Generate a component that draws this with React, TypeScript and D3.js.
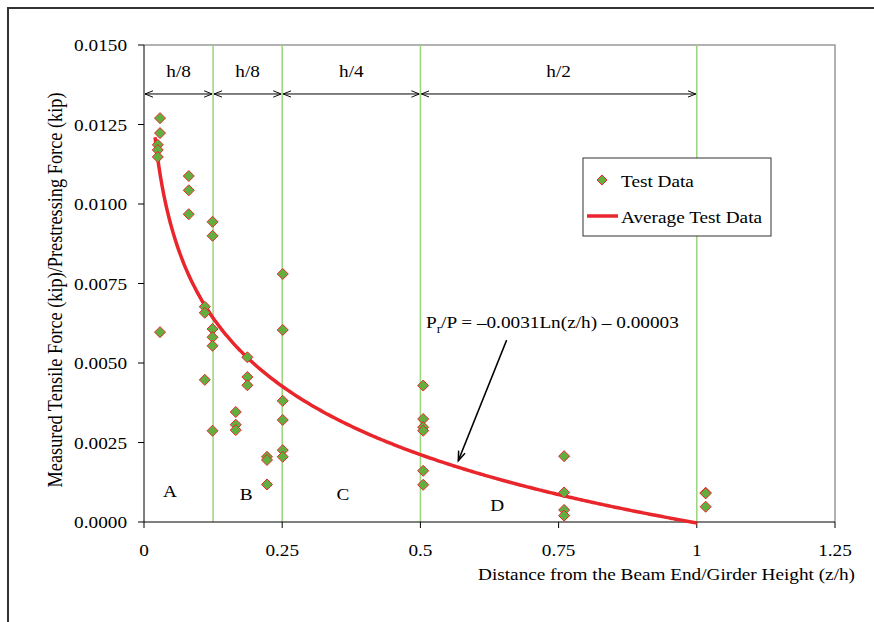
import React from "react";
import * as d3 from "d3";

// test points: z/h and Pr/P
const testX = [
  0.029, 0.029, 0.025, 0.025, 0.025, 0.029,
  0.081, 0.081, 0.081,
  0.110, 0.110, 0.110,
  0.124, 0.124, 0.124, 0.124, 0.124, 0.124,
  0.166, 0.166, 0.166,
  0.187, 0.187, 0.187,
  0.2225, 0.2225, 0.2225,
  0.251, 0.251, 0.251, 0.251, 0.251, 0.251,
  0.505, 0.505, 0.505, 0.505, 0.505, 0.505,
  0.760, 0.760, 0.760, 0.760,
  1.016, 1.016, 1.016,
];
const testY = [
  0.0127, 0.01223, 0.01186, 0.0117, 0.01148, 0.00597,
  0.01088, 0.01043, 0.00968,
  0.00677, 0.00658, 0.00447,
  0.00944, 0.0090, 0.00607, 0.00581, 0.00554, 0.00287,
  0.00346, 0.00306, 0.00289,
  0.00518, 0.00456, 0.0043,
  0.00205, 0.00195, 0.00118,
  0.0078, 0.00604, 0.00381, 0.00321, 0.00226, 0.00205,
  0.00429, 0.00324, 0.00298, 0.00287, 0.00161, 0.00117,
  0.00207, 0.00093, 0.00038, 0.0002,
  0.00092, 0.0009, 0.00048,
];

const xTicks = [0, 0.25, 0.5, 0.75, 1, 1.25];
const xTickLabels = ["0", "0.25", "0.5", "0.75", "1", "1.25"];
const yTicks = [0, 0.0025, 0.005, 0.0075, 0.01, 0.0125, 0.015];

const zoneLines = [0.125, 0.25, 0.5, 1];
const spanStarts = [0, 0.125, 0.25, 0.5];
const spanEnds = [0.125, 0.25, 0.5, 1];
const spanLabels = ["h/8", "h/8", "h/4", "h/2"];
const regionNames = ["A", "B", "C", "D"];
const regionX = [0.047, 0.185, 0.36, 0.639];
const regionY = [0.00097, 0.00088, 0.00088, 0.00053];

const fitA = -0.0031, fitB = -0.00003;

const FONT = "'Liberation Serif', 'Times New Roman', serif";
const FS = 17.5;
const RED = "#e8262c";
const GREEN = "#62ae3e";
const ZONE = "#98d67a";

// text is a little wider than the font in the original picture
const Label = ({ x, y, anchor = "start", dy = "0", children }: any) => (
  <text transform={`translate(${x},${y}) scale(1.1,1)`} textAnchor={anchor} dy={dy} fontSize={FS}>
    {children}
  </text>
);

const Diamond = ({ cx, cy, r = 5.5 }: { cx: number; cy: number; r?: number }) => (
  <path d={`M${cx},${cy - r}L${cx + r},${cy}L${cx},${cy + r}L${cx - r},${cy}Z`}
    fill={GREEN} stroke={RED} strokeWidth={1} />
);

export default function App() {
  const left = 144, right = 835, top = 45, bottom = 522;
  const x = d3.scaleLinear([0, 1.25], [left, right]);
  const y = d3.scaleLinear([0, 0.015], [bottom, top]);

  const curveX = d3.range(0.02, 1.0001, 0.005);
  const fitLine = d3.line<number>()
    .x(d => x(d))
    .y(d => y(fitA * Math.log(d) + fitB))
    .curve(d3.curveMonotoneX);

  const dimY = y(0.01346);
  const dimLabelY = y(0.0142);

  // annotation arrow in data units
  const a0 = [x(0.656), y(0.00572)];
  const a1 = [x(0.5686), y(0.00193)];
  const ang = Math.atan2(a1[1] - a0[1], a1[0] - a0[0]);
  const head = (s: number) =>
    `${a1[0] - 10 * Math.cos(ang + s)},${a1[1] - 10 * Math.sin(ang + s)}`;

  return (
    <svg width={874} height={622} style={{ position: "absolute", left: 0, top: 0, fontFamily: FONT }}>
      <rect x={0} y={0} width={874} height={622} fill="#fff" />
      <rect x={8} y={8} width={900} height={700} fill="none" stroke="#333" strokeWidth={2} />

      {/* plot area border */}
      <path d={`M${left},${top}H${right}V${bottom}`} fill="none" stroke="#999" strokeWidth={1.5} />

      {zoneLines.map((z, i) => (
        <line key={i} x1={x(z)} x2={x(z)} y1={top} y2={bottom} stroke={ZONE} strokeWidth={1.5} />
      ))}

      {/* axes */}
      <line x1={left} x2={left} y1={top} y2={bottom} stroke="#000" strokeWidth={1} />
      <line x1={left} x2={right} y1={bottom} y2={bottom} stroke="#000" strokeWidth={1.2} />
      {yTicks.map((t, i) => (
        <g key={i}>
          <line x1={left - 6} x2={left} y1={y(t)} y2={y(t)} stroke="#000" />
          <Label x={left - 17} y={y(t)} dy="0.35em" anchor="end">{t.toFixed(4)}</Label>
        </g>
      ))}
      {xTicks.map((t, i) => (
        <g key={i}>
          <line x1={x(t)} x2={x(t)} y1={bottom} y2={bottom + 6} stroke="#000" />
          <Label x={x(t)} y={bottom + 34} anchor="middle">{xTickLabels[i]}</Label>
        </g>
      ))}
      <Label x={855} y={580} anchor="end">Distance from the Beam End/Girder Height (z/h)</Label>
      <text transform={`translate(62,290) rotate(-90) scale(1,1.1)`} textAnchor="middle" fontSize={18.3}>
        Measured Tensile Force (kip)/Prestressing Force (kip)
      </text>

      {/* span dimensions */}
      <defs>
        <marker id="ah" viewBox="0 0 10 10" refX={10} refY={5} markerWidth={8} markerHeight={8} orient="auto-start-reverse">
          <path d="M0,1L10,5L0,9" fill="none" stroke="#000" strokeWidth={1.2} />
        </marker>
      </defs>
      {spanStarts.map((s, i) => (
        <g key={i}>
          <line x1={x(s) + 1} x2={x(spanEnds[i]) - 1} y1={dimY} y2={dimY} stroke="#000" strokeWidth={1}
            markerStart="url(#ah)" markerEnd="url(#ah)" />
          <Label x={(x(s) + x(spanEnds[i])) / 2} y={dimLabelY} dy="0.35em" anchor="middle">{spanLabels[i]}</Label>
        </g>
      ))}

      {regionNames.map((n, i) => (
        <Label key={n} x={x(regionX[i])} y={y(regionY[i])} dy="0.35em" anchor="middle">{n}</Label>
      ))}

      <path d={fitLine(curveX) || ""} fill="none" stroke={RED} strokeWidth={3.5} />

      {testX.map((v, i) => <Diamond key={i} cx={x(v)} cy={y(testY[i])} />)}

      {/* equation + arrow */}
      <Label x={426} y={328}>
        P<tspan fontSize={12} dy={5}>r</tspan><tspan dy={-5}>/P = –0.0031Ln(z/h) – 0.00003</tspan>
      </Label>
      <line x1={a0[0]} y1={a0[1]} x2={a1[0]} y2={a1[1]} stroke="#000" strokeWidth={1.5} />
      <path d={`M${head(0.35)}L${a1[0]},${a1[1]}L${head(-0.35)}`} fill="none" stroke="#000" strokeWidth={1.5} />

      {/* legend */}
      <rect x={583} y={158} width={188} height={78} fill="#fff" stroke="#333" strokeWidth={1} />
      <Diamond cx={602} cy={180} r={5} />
      <Label x={621} y={181} dy="0.35em">Test Data</Label>
      <line x1={587} x2={618} y1={216} y2={216} stroke={RED} strokeWidth={3.5} />
      <Label x={621} y={217} dy="0.35em">Average Test Data</Label>
    </svg>
  );
}
